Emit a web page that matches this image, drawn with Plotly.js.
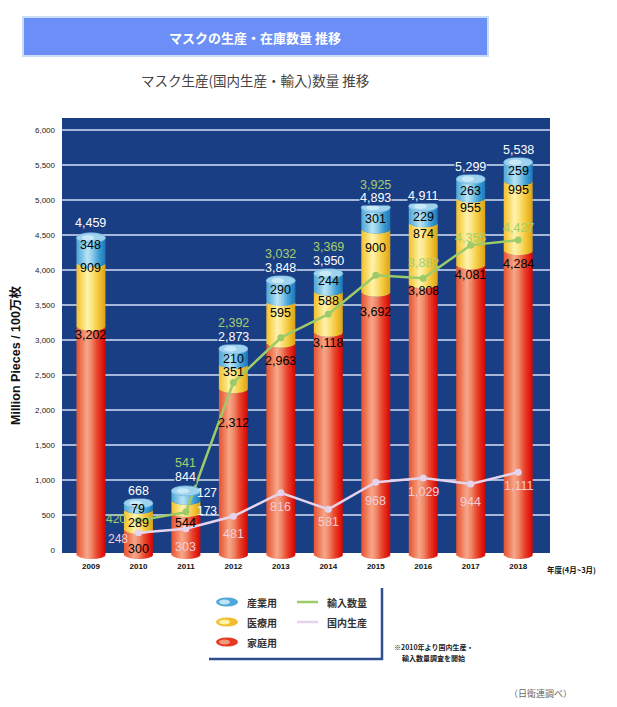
<!DOCTYPE html>
<html><head><meta charset="utf-8">
<script src="https://cdn.plot.ly/plotly-3.0.1.min.js"></script>
<style>html,body{margin:0;padding:0;background:#fff}#chart{width:617px;height:707px}</style>
</head><body><div id="chart"></div>
<script>
// ---------------- data ----------------
const years = ['2009','2010','2011','2012','2013','2014','2015','2016','2017','2018'];
const household = [3202,300,544,2312,2963,3118,3692,3808,4081,4284];   // 家庭用
const medical   = [909,289,173,351,595,588,900,874,955,995];            // 医療用
const industrial= [348,79,127,210,290,244,301,229,263,259];             // 産業用
const totals    = [4459,668,844,2873,3848,3950,4893,4911,5299,5538];
const lineYears = ['2010','2011','2012','2013','2014','2015','2016','2017','2018'];
const imports   = [420,541,2392,3032,3369,3925,3882,4355,4427];         // 輸入数量
const domestic  = [248,303,481,816,581,968,1029,944,1111];              // 国内生産
const yTickVals = [0,500,1000,1500,2000,2500,3000,3500,4000,4500,5000,5500,6000];
const yTickText = ['0','500','1,000','1,500','2,000','2,500','3,000','3,500','4,000','4,500','5,000','5,500','6,000'];

// ---------------- layout geometry / styles ----------------
const W=617, H=707, L=62, R=550, T=118, B=560;
const yMin=-143, yMax=6171;
const ppu=(B-T)/(yMax-yMin);
const pu = p => p/ppu;
const px = x => (x-L)/(R-L);
const py = y => (B-y)/(B-T);
const barW=0.61, nStrip=18;
const capH=pu(5), botExtra=pu(4);
const NUM='Liberation Sans, Arial, sans-serif';
const JP='Noto Sans CJK JP, sans-serif';

function hex(h){return [1,3,5].map(k=>parseInt(h.substr(k,2),16));}
function grad(stops,t){
  for(let k=0;k<stops.length-1;k++){
    const [a,ca]=stops[k],[b,cb]=stops[k+1];
    if(t>=a&&t<=b){const f=(t-a)/(b-a);const A=hex(ca),Bc=hex(cb);
      return 'rgb('+A.map((v,j)=>Math.round(v+(Bc[j]-v)*f)).join(',')+')';}
  }
  return stops[stops.length-1][1];
}
const redStops=[[0,'#E5532F'],[0.18,'#EF7A58'],[0.36,'#F6A78A'],[0.52,'#F08766'],[0.72,'#E8432C'],[0.9,'#E1180F'],[1,'#C80A0A']];
const yelStops=[[0,'#F2BF2E'],[0.2,'#F9DC6A'],[0.38,'#FFF3B0'],[0.55,'#FBE27A'],[0.78,'#F2C433'],[1,'#DCA21A']];
const bluStops=[[0,'#4EA6D6'],[0.2,'#7FC4E6'],[0.38,'#BDE5F4'],[0.55,'#8CCDEB'],[0.78,'#3D9CD2'],[1,'#1E79B6']];

const yelBase = household;
const bluBase = household.map((v,i)=>v+medical[i]);
const topVal  = bluBase.map((v,i)=>v+industrial[i]);

const segs=[
  {lo:years.map(()=>0), hi:yelBase, stops:redStops, bottom:true, top:false},
  {lo:yelBase, hi:bluBase, stops:yelStops, bottom:false, top:false},
  {lo:bluBase, hi:topVal, stops:bluStops, bottom:false, top:true}
];

const traces=[];
segs.forEach(sg=>{
  for(let i=0;i<nStrip;i++){
    const uc=-1+(2*i+1)/nStrip, s=Math.sqrt(1-uc*uc);
    const loShift = sg.bottom ? botExtra+capH*s : capH*s;
    const hiShift = sg.top ? 0 : capH*s;
    const base = sg.lo.map(v=>v-loShift);
    const hgt  = sg.hi.map((v,j)=>(v-hiShift)-base[j]);
    const w = (i<nStrip-1) ? barW/nStrip*1.5 : barW/nStrip;
    traces.push({type:'bar', x:years, y:hgt, base:base,
      offset:-barW/2+i*barW/nStrip, width:w,
      marker:{color:grad(sg.stops,(i+0.5)/nStrip), line:{width:0}},
      hoverinfo:'skip', showlegend:false});
  }
});
traces.push({type:'scatter', mode:'lines+markers', x:lineYears, y:imports,
  line:{color:'#9CCB68', width:2.5}, marker:{color:'#9CCB68', size:7}, showlegend:false, hoverinfo:'skip'});
traces.push({type:'scatter', mode:'lines+markers', x:lineYears, y:domestic,
  line:{color:'#E6D4EE', width:2.5}, marker:{color:'#E6D4EE', size:7}, showlegend:false, hoverinfo:'skip'});

// ---------------- shapes ----------------
const shapes=[];
shapes.push({type:'rect', xref:'paper', yref:'y', x0:0, x1:1, y0:-43, y1:yMax, fillcolor:'#1A3E84', line:{width:0}, layer:'below'});
yTickVals.filter(v=>v>0).forEach(v=>shapes.push({type:'line', xref:'paper', yref:'y', x0:0, x1:1, y0:v, y1:v, line:{color:'#D4E0F4', width:1.5}, layer:'below'}));
topVal.forEach((v,i)=>{
  shapes.push({type:'circle', xref:'x', yref:'y', x0:i-barW/2, x1:i+barW/2, y0:v-capH, y1:v+capH, fillcolor:'#9ED2EE', line:{color:'#6FB6E0', width:0.8}, layer:'above'});
  shapes.push({type:'circle', xref:'x', yref:'y', x0:i-barW*0.32, x1:i+barW*0.12, y0:v-capH*0.55, y1:v+capH*0.55, fillcolor:'#C8E9F7', line:{width:0}, layer:'above'});
});
// header band
shapes.push({type:'rect', xref:'paper', yref:'paper', x0:px(23), x1:px(488), y0:py(56), y1:py(17), fillcolor:'#6B8FF6', line:{color:'#C8DDF8', width:2}, layer:'above'});
// legend box lines
shapes.push({type:'line', xref:'paper', yref:'paper', x0:px(382), x1:px(382), y0:py(588), y1:py(660), line:{color:'#2E4F8E', width:2.5}});
shapes.push({type:'line', xref:'paper', yref:'paper', x0:px(209), x1:px(383), y0:py(659), y1:py(659), line:{color:'#2E4F8E', width:2.5}});
// legend icons
const legIcons=[[602,'#4FA8D8','#BDE5F4'],[622,'#F0BE2E','#FFF1A8'],[642,'#E43A22','#F29A7C']];
legIcons.forEach(([yy,c1,c2])=>{
  shapes.push({type:'circle', xref:'paper', yref:'paper', x0:px(216), x1:px(238), y0:py(yy+4.5), y1:py(yy-4.5), fillcolor:c1, line:{width:0}});
  shapes.push({type:'circle', xref:'paper', yref:'paper', x0:px(219), x1:px(230), y0:py(yy+2.5), y1:py(yy-2.5), fillcolor:c2, line:{width:0}});
});
shapes.push({type:'line', xref:'paper', yref:'paper', x0:px(297), x1:px(318), y0:py(602), y1:py(602), line:{color:'#9CCB68', width:2.5}});
shapes.push({type:'line', xref:'paper', yref:'paper', x0:px(297), x1:px(318), y0:py(622), y1:py(622), line:{color:'#E6D4EE', width:2.5}});

// ---------------- label offsets (px, positive = downward) ----------------
const off = {
  red:   [9,20,11,35,18,11,20,8,11,14],
  yellow:[6,14,11,8,12,10,19,12,11,10],
  blue:  [7,6,2,10,9,8,12,11,12,9],
  total: [-15,-12,-14,-12,-13,-12,-9,-10,-12,-12],
  imp:   [-2,-28,-26,-27,-26,-22,-15,-7,-12],
  impAnchor:['pt','tot','tot','tot','tot','tot','pt','pt','pt'],
  dom:   [6,18,18,14,13,19,14,18,14],
  sideX: {1:-22}, sideSeg:{2:21}
};

const ann=[];
// x is the category's serial index on the category axis
function lab(xi,y,text,color,dy,dx,bg,size){
  const a={x:xi, y:y, xref:'x', yref:'y', text:text, showarrow:false,
    font:{family:NUM, size:size||12.5, color:color}, yshift:-dy, xshift:dx||0, xanchor:'center', yanchor:'middle'};
  if(bg){a.bgcolor=bg; a.borderpad=0;}
  ann.push(a);
}
const fmt = v => v.toLocaleString('en-US');
years.forEach((yr,i)=>{
  const dx = off.sideSeg[i]||0;
  const segCol = dx ? '#FFFFFF' : '#000000';
  const sz = dx ? 12 : 12.5;
  lab(i, household[i], fmt(household[i]), '#000', off.red[i]);
  lab(i, bluBase[i], fmt(medical[i]), segCol, off.yellow[i], dx, null, sz);
  lab(i, topVal[i], fmt(industrial[i]), segCol, off.blue[i], dx, null, sz);
  lab(i, topVal[i], fmt(totals[i]), '#FFFFFF', off.total[i], 0, '#1A3E84');
});
lineYears.forEach((yr,j)=>{
  const i=years.indexOf(yr);
  const dx = off.sideX[i]||0;
  const anchorY = off.impAnchor[j]==='tot' ? topVal[i] : imports[j];
  lab(i, anchorY, fmt(imports[j]), '#A2D06C', off.imp[j], dx, off.impAnchor[j]==='tot'?'#1A3E84':null, dx?12:12.5);
  lab(i, domestic[j], fmt(domestic[j]), '#F3CDD8', off.dom[j], dx ? dx+2 : 0, null, dx?12:12.5);
});

function pa(x,y,text,font,extra){
  ann.push(Object.assign({xref:'paper', yref:'paper', x:px(x), y:py(y), text:text, showarrow:false, font:font, xanchor:'center', yanchor:'middle'}, extra||{}));
}
pa(255,37,'<b>マスクの生産・在庫数量 推移</b>',{family:JP,size:13,color:'#FFFFFF'});
pa(255,80,'マスク生産(国内生産・輸入)数量 推移',{family:JP,size:13.5,color:'#444444'});
pa(15,356,'<b>Million Pieces / 100万枚</b>',{family:NUM+', '+JP,size:12.5,color:'#111'},{textangle:-90});
pa(571,569,'<b>年度(4月~3月)</b>',{family:JP,size:7.5,color:'#111'});
pa(245,602,'<b>産業用</b>',{family:JP,size:10,color:'#333'},{xanchor:'left'});
pa(245,622,'<b>医療用</b>',{family:JP,size:10,color:'#333'},{xanchor:'left'});
pa(245,642,'<b>家庭用</b>',{family:JP,size:10,color:'#333'},{xanchor:'left'});
pa(325,602,'<b>輸入数量</b>',{family:JP,size:10,color:'#333'},{xanchor:'left'});
pa(325,622,'<b>国内生産</b>',{family:JP,size:10,color:'#333'},{xanchor:'left'});
pa(433,647,'<b>※2010年より国内生産・</b>',{family:JP,size:7,color:'#222'});
pa(433,658,'<b>輸入数量調査を開始</b>',{family:JP,size:7,color:'#222'});
pa(540,693,'（日衛連調べ）',{family:JP,size:9,color:'#666'});

const layout={
  width:W, height:H, margin:{l:L, r:W-R, t:T, b:H-B, pad:0},
  paper_bgcolor:'#FFFFFF', plot_bgcolor:'rgba(0,0,0,0)',
  barmode:'overlay', showlegend:false,
  font:{family:NUM},
  xaxis:{type:'category', range:[-barW/2-0.305, 9.67], showgrid:false, zeroline:false, showline:false,
    ticks:'', tickfont:{family:NUM, size:8, color:'#111', weight:'bold'}, fixedrange:true},
  yaxis:{range:[yMin,yMax], tickvals:yTickVals, ticktext:yTickText, showgrid:false, zeroline:false, showline:false,
    ticks:'', ticklabelstandoff:6, tickfont:{family:NUM, size:8, color:'#222'}, fixedrange:true},
  shapes:shapes, annotations:ann
};
Plotly.newPlot('chart', traces, layout, {displayModeBar:false, staticPlot:true});
</script>
</body></html>
